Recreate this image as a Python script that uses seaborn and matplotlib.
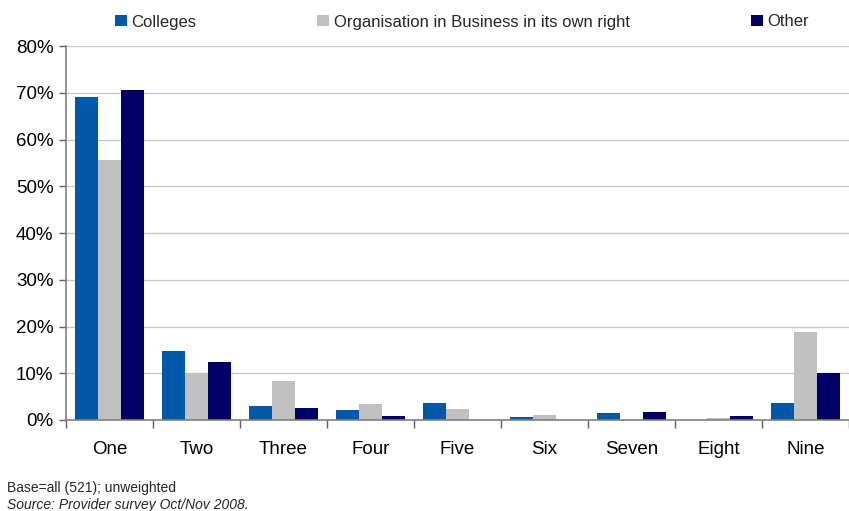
import numpy as np
import pandas as pd
import matplotlib
matplotlib.use('Agg')
import matplotlib.pyplot as plt
import seaborn as sns
from matplotlib.patches import Patch
from matplotlib.ticker import PercentFormatter

categories = ['One', 'Two', 'Three', 'Four', 'Five', 'Six', 'Seven', 'Eight', 'Nine']
series_names = ['Colleges', 'Organisation in Business in its own right', 'Other']
colleges = [69.1, 14.8, 3.0, 2.1, 3.6, 0.6, 1.5, 0.0, 3.6]
business = [55.6, 10.0, 8.3, 3.4, 2.4, 1.1, 0.0, 0.4, 18.8]
other = [70.6, 12.4, 2.6, 0.9, 0.0, 0.0, 1.8, 0.9, 10.0]
colors = ['#0058A8', '#C0C0C0', '#000066']
y_ticks = [0, 10, 20, 30, 40, 50, 60, 70, 80]

sns.set_theme(style='white')
plt.rcParams['font.family'] = ['Liberation Sans', 'DejaVu Sans']

df = pd.DataFrame({
    'category': categories * 3,
    'series': [series_names[0]] * 9 + [series_names[1]] * 9 + [series_names[2]] * 9,
    'value': colleges + business + other,
})

fig = plt.figure(figsize=(8.49, 5.11), dpi=100)
ax = fig.add_axes([66 / 849, 1 - 420 / 511, 783 / 849, 374 / 511])
sns.barplot(data=df, x='category', y='value', hue='series', order=categories,
            hue_order=series_names, palette=colors, width=0.8, gap=0,
            saturation=1, linewidth=0, edgecolor='none', ax=ax, legend=False)

ax.set_xlim(-0.5, 8.5)
ax.set_ylim(0, 80)
ax.set_yticks(y_ticks)
ax.yaxis.set_major_formatter(PercentFormatter(decimals=0))
ax.grid(axis='y', color='#C8C8C8', linewidth=1)
ax.set_axisbelow(True)
ax.set_xlabel('')
ax.set_ylabel('')

ax.set_xticks(np.arange(-0.5, 9, 1), minor=True)
ax.tick_params(axis='x', which='major', length=0, labelsize=13.5, pad=15, colors='#000000')
ax.tick_params(axis='x', which='minor', length=6, width=1, color='#606060', direction='out', bottom=True)
ax.tick_params(axis='y', which='major', length=5, width=1, color='#606060', direction='out', left=True,
               labelsize=13.5, pad=4, labelcolor='#000000')

for side in ['top', 'right']:
    ax.spines[side].set_visible(False)
for side in ['left', 'bottom']:
    ax.spines[side].set_color('#808080')
    ax.spines[side].set_linewidth(1.2)

handles = [Patch(facecolor=c, edgecolor='none') for c in colors]
fig.legend(handles, series_names, loc='center', bbox_to_anchor=(462 / 849, 1 - 22 / 511), ncol=3,
           frameon=False, fontsize=12, handlelength=0.7, handleheight=0.7,
           handletextpad=0.3, columnspacing=7.25)

fig.text(7 / 849, 1 - 488 / 511, 'Base=all (521); unweighted', fontsize=10, va='center', ha='left')
fig.text(7 / 849, 1 - 505 / 511, 'Source: Provider survey Oct/Nov 2008.', fontsize=10,
         va='center', ha='left', style='italic')

fig.savefig('out.png', dpi=100)
